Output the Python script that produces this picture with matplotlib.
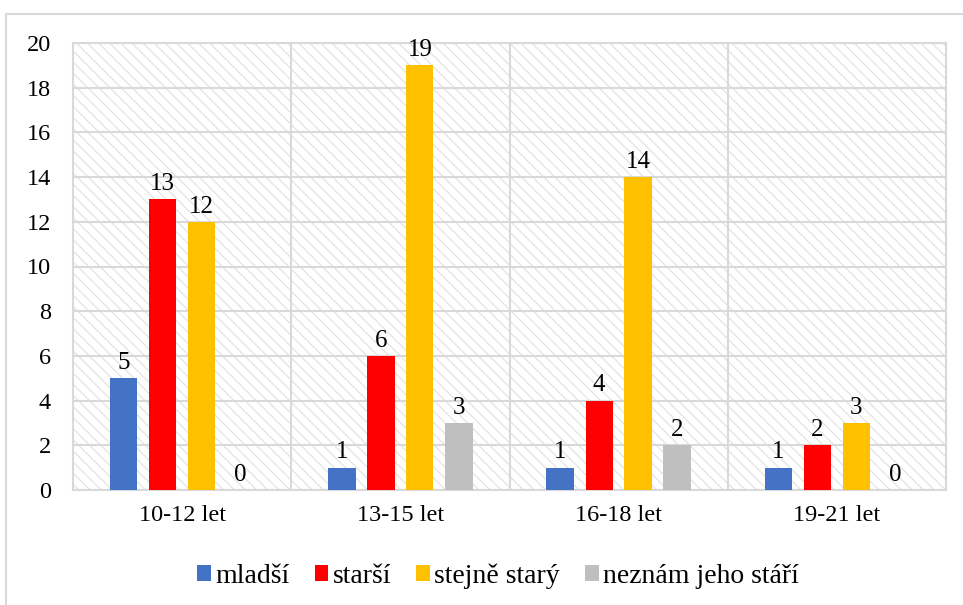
import matplotlib
matplotlib.use("Agg")
import matplotlib.pyplot as plt
from matplotlib.patches import Rectangle, Patch
import numpy as np

categories = ["10-12 let", "13-15 let", "16-18 let", "19-21 let"]
series_names = ["mladší", "starší", "stejně starý", "neznám jeho stáří"]
mladsi = [5, 1, 1, 1]
starsi = [13, 6, 4, 2]
stejne = [12, 19, 14, 3]
neznam = [0, 3, 2, 0]
colors = ["#4472C4", "#FF0000", "#FFC000", "#BFBFBF"]
yticks = [0, 2, 4, 6, 8, 10, 12, 14, 16, 18, 20]

plt.rcParams['font.family'] = ['Liberation Serif', 'DejaVu Serif']
plt.rcParams['hatch.color'] = '#e3e3e3'
plt.rcParams['hatch.linewidth'] = 0.9

fig = plt.figure(figsize=(9.63, 6.05), dpi=100)
# outer chart border
fig.patches.append(Rectangle((6/963, -0.1), 1.2, 0.1 + 1 - 14/605, transform=fig.transFigure,
                             fill=False, edgecolor='#d9d9d9', lw=1.5, zorder=0))
ax = fig.add_axes([73/963, 1 - 490/605, (946 - 73)/963, (490 - 43)/605])

ax.add_patch(Rectangle((0, 0), 1, 1, transform=ax.transAxes, facecolor='white',
                       edgecolor='#e3e3e3', hatch='\\\\\\', lw=0, zorder=0))

x = np.arange(len(categories))
width = 0.125
offsets = [-0.268, -0.089, 0.089, 0.268]
all_series = [mladsi, starsi, stejne, neznam]
for vals, off, col, name in zip(all_series, offsets, colors, series_names):
    ax.bar(x + off, vals, width, color=col, label=name, zorder=3)
    for xi, v in zip(x + off, vals):
        ax.annotate(str(v), (xi, v), xytext=(0, 3), textcoords='offset points',
                    ha='center', va='bottom', fontsize=18, color='black', zorder=4)

ax.set_xlim(-0.5, 3.5)
ax.set_ylim(0, 20)
ax.set_yticks(yticks)
ax.set_xticks(x)
ax.set_xticklabels(categories)
ax.tick_params(axis='both', length=0, labelsize=17.5, colors='black')
ax.tick_params(axis='y', pad=16)
ax.tick_params(axis='x', pad=11)
ax.grid(axis='y', color='#d9d9d9', lw=1.5, zorder=1)
ax.set_axisbelow(True)
for b in [0.5, 1.5, 2.5]:
    ax.axvline(b, color='#d9d9d9', lw=1.5, zorder=1)
for s in ax.spines.values():
    s.set_color('#d9d9d9')
    s.set_linewidth(1.5)

handles = [Patch(facecolor=c, label=n) for c, n in zip(colors, series_names)]
fig.legend(handles=handles, loc='center', bbox_to_anchor=(498/963, 1 - 576/605), ncol=4,
           frameon=False, fontsize=20, handlelength=0.5, handleheight=0.5,
           handletextpad=0.15, columnspacing=0.9)

fig.savefig("out.png", dpi=100)
